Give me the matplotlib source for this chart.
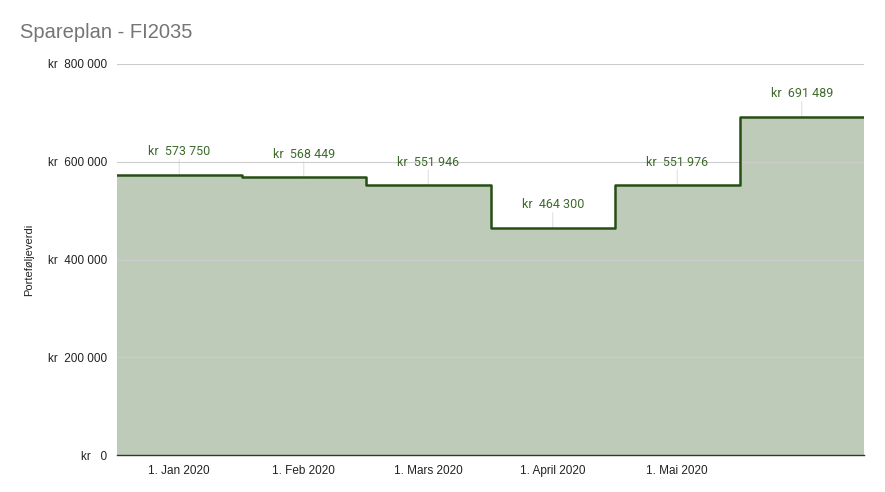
import numpy as np
import matplotlib.pyplot as plt

months = ["1. Jan 2020", "1. Feb 2020", "1. Mars 2020", "1. April 2020", "1. Mai 2020", ""]
values = [573750, 568449, 551946, 464300, 551976, 691489]
yticks = [0, 200000, 400000, 600000, 800000]


def kr(v):
    if v == 0:
        return "kr   0"
    return "kr  " + f"{v:,}".replace(",", " ")


fig = plt.figure(figsize=(8.85, 4.92), dpi=100)
ax = fig.add_axes([117 / 885, 37 / 492, 747 / 885, 391 / 492])

n = len(values)
x = np.arange(n + 1)
y = values + [values[-1]]

ax.fill_between(x, y, step="post", color="#bfcbb9", lw=0, zorder=1)
ax.step(x, y, where="post", color="#274e13", lw=1.8, zorder=3,
        solid_joinstyle="round")

for i, v in enumerate(values):
    ax.annotate(kr(v), xy=(i + 0.5, v), xytext=(0, 12), textcoords="offset points",
                ha="center", va="bottom", fontsize=9, color="#3d6b2c",
                family="Roboto", zorder=4)
    ax.annotate("", xy=(i + 0.5, v), xytext=(0, 11), textcoords="offset points",
                arrowprops=dict(arrowstyle="-", color="#e0e0e0", lw=0.8, shrinkA=0, shrinkB=0),
                zorder=2)

ax.set_xlim(0, n)
ax.set_ylim(0, 800000)
ax.set_xticks(x[:-1] + 0.5)
ax.set_xticklabels(months, fontsize=8.5, color="#222222", family="Liberation Sans")
ax.set_yticks(yticks)
ax.set_yticklabels([kr(t) for t in yticks], fontsize=8.5, color="#222222", family="Liberation Sans")
ax.tick_params(length=0, pad=7)
ax.grid(axis="y", color="#cccccc", lw=0.8, zorder=0)
ax.set_axisbelow(False)
for s in ["top", "right", "left"]:
    ax.spines[s].set_visible(False)
ax.spines["bottom"].set_color("#333333")
ax.spines["bottom"].set_linewidth(1)
ax.spines["bottom"].set_zorder(5)

ax.set_ylabel("Porteføljeverdi", fontsize=8, color="#222222", family="Liberation Sans")
ax.yaxis.set_label_coords(-0.111, 0.5)

fig.text(20 / 885, 1 - 32 / 492, "Spareplan - FI2035", fontsize=14.5, color="#757575",
         family="Liberation Sans", va="center", ha="left")

fig.savefig("out.png", dpi=100)
